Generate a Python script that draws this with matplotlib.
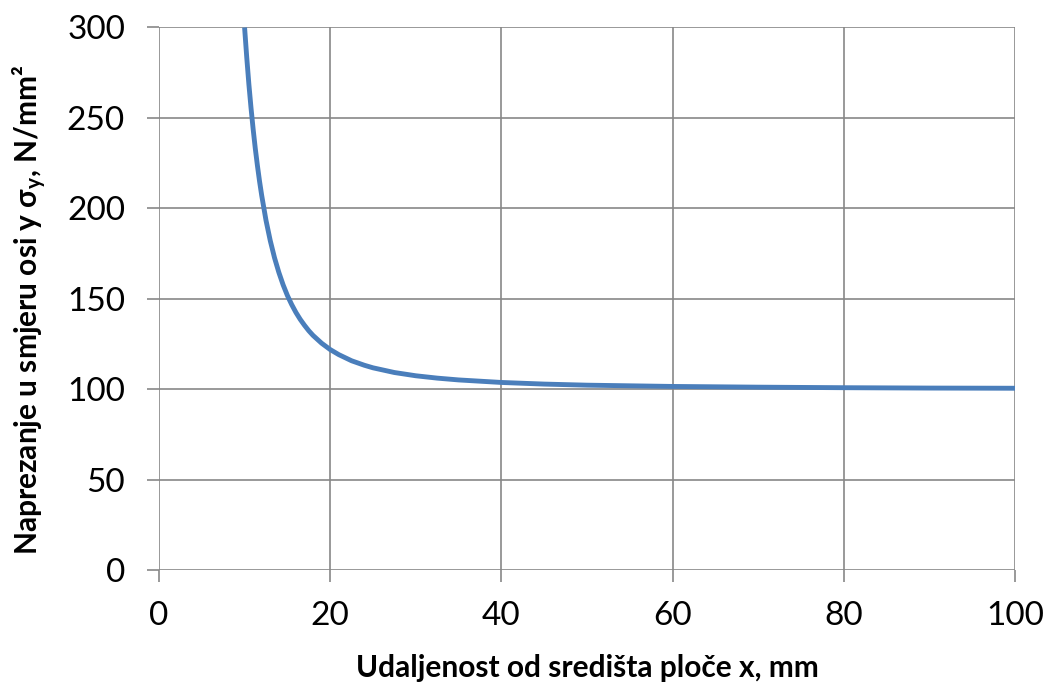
import matplotlib
matplotlib.use("Agg")
import matplotlib.pyplot as plt

# values
x_mm = [10, 10.25, 10.5, 10.75, 11, 11.25, 11.5, 11.75, 12, 12.5, 13, 13.5, 14, 14.5,
        15, 15.5, 16, 16.5, 17, 17.5, 18, 19, 20, 21, 22.5, 24, 25, 27.5, 30, 32.5,
        35, 40, 45, 50, 60, 70, 80, 90, 100]
sigma_y = [300, 283.6, 268.7, 255.6, 243.8, 233.1, 223.6, 214.9, 207.1, 193.4, 182.1,
           172.6, 164.6, 157.7, 151.8, 146.8, 142.4, 138.6, 135.3, 132.3, 129.7, 125.4,
           121.9, 119.1, 115.7, 113.2, 111.8, 109.2, 107.4, 106.1, 105.1, 103.7, 102.8,
           102.2, 101.5, 101.1, 100.8, 100.6, 100.5]
x_ticks = [0, 20, 40, 60, 80, 100]
y_ticks = [0, 50, 100, 150, 200, 250, 300]

plt.rcParams['font.family'] = ['Lato', 'DejaVu Sans']
plt.rcParams['mathtext.fontset'] = 'custom'
plt.rcParams['mathtext.rm'] = 'Lato:bold'
plt.rcParams['mathtext.it'] = 'Lato:bold'
plt.rcParams['mathtext.bf'] = 'Lato:bold'

grey = '#878787'
fig = plt.figure(figsize=(10.48, 6.84), dpi=100)
ax = fig.add_axes([0.1517, 0.1667, 0.8168, 0.7931])
ax.plot(x_mm, sigma_y, color='#4a7ebb', lw=3.5, solid_joinstyle='round',
        solid_capstyle='butt', zorder=3)
ax.set_xlim(0, 100)
ax.set_ylim(0, 300)
ax.set_xticks(x_ticks)
ax.set_yticks(y_ticks)
ax.grid(True, color=grey, lw=1.2)
for s in ax.spines.values():
    s.set_visible(False)
ax.tick_params(length=8.5, width=1.2, color=grey, labelsize=24)
ax.tick_params(axis='y', pad=16)
ax.tick_params(axis='x', pad=14)
ax.set_xlabel('Udaljenost od središta ploče x, mm', fontsize=21.5, fontweight='bold')
ax.xaxis.label.set_va('baseline')
ax.xaxis.set_label_coords(0.5, -0.1974)
ax.set_ylabel(r'Naprezanje u smjeru osi y $\sigma_y$, N/mm²', fontsize=21.5, fontweight='bold')
ax.yaxis.set_label_coords(-0.128, 0.48)
fig.savefig('out.png', dpi=100)
